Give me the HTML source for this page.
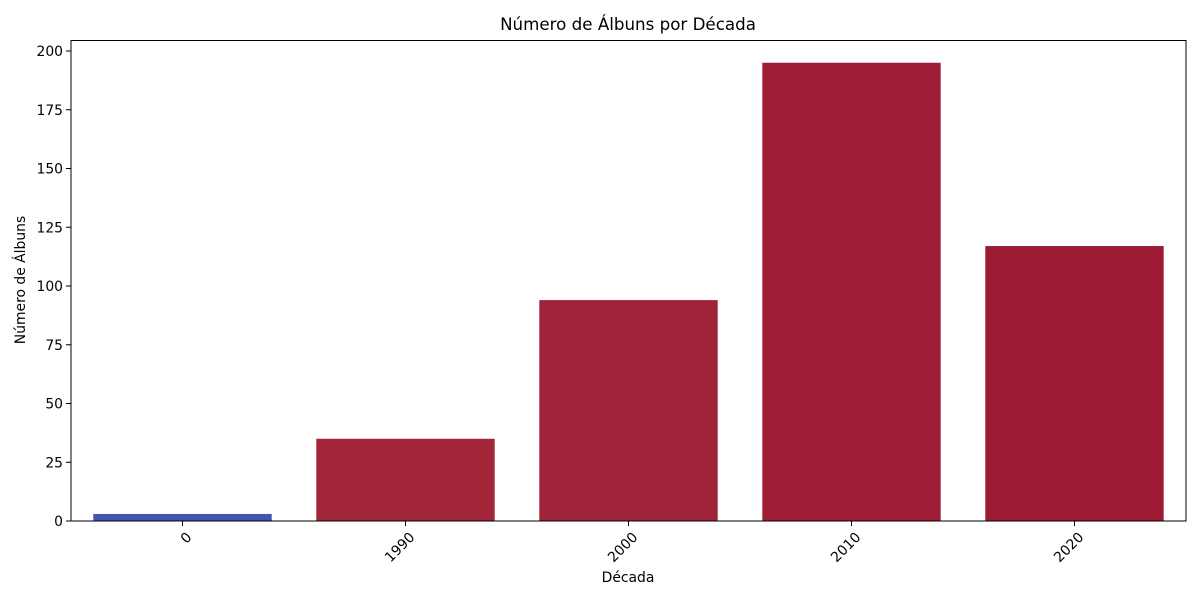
<!DOCTYPE html>
<html><head><meta charset="utf-8"><style>
body{margin:0;background:#fff;}
svg text{font-family:"DejaVu Sans","Liberation Sans",sans-serif;fill:#000;}
</style></head><body>
<svg id="chart" width="1200" height="600" viewBox="0 0 1200 600">
<text x="628" y="30" font-size="16.7" text-anchor="middle">Número de Álbuns por Década</text>
<g id="bars"></g>
<g id="yticks"></g>
<g id="xticks"></g>
<rect x="71" y="40.5" width="1115" height="480.5" fill="none" stroke="#000" stroke-width="1"/>
<text x="628" y="582" font-size="13.9" text-anchor="middle">Década</text>
<text transform="translate(25,280) rotate(-90)" font-size="13.9" text-anchor="middle">Número de Álbuns</text>
</svg>
<script>
const categories = ["0","1990","2000","2010","2020"];
const values = [3, 35, 94, 195, 117];
const colors = ["#4453b6","#a32539","#a1233a","#9e1c35","#9d1a35"];
const yTicks = [0,25,50,75,100,125,150,175,200];
const NS="http://www.w3.org/2000/svg";
const x0=71,x1=1186,yBase=521,yTop200=51;
function yScale(v){return yBase-(v/200)*(yBase-yTop200);}
const band=(x1-x0)/categories.length;
function xCenter(i){return x0+band*(i+0.5);}
const bars=document.getElementById('bars'),yt=document.getElementById('yticks'),xt=document.getElementById('xticks');
categories.forEach((c,i)=>{
  const r=document.createElementNS(NS,'rect');
  const w=band*0.8;
  r.setAttribute('x',xCenter(i)-w/2);
  r.setAttribute('y',yScale(values[i]));
  r.setAttribute('width',w);
  r.setAttribute('height',yBase-yScale(values[i]));
  r.setAttribute('fill',colors[i]);
  
  
  bars.appendChild(r);
  const l=document.createElementNS(NS,'line');
  l.setAttribute('x1',xCenter(i));l.setAttribute('x2',xCenter(i));
  l.setAttribute('y1',yBase);l.setAttribute('y2',yBase+5);
  l.setAttribute('stroke','#000');
  
  
  xt.appendChild(l);
  const t=document.createElementNS(NS,'text');
  t.setAttribute('font-size','13.9');
  t.setAttribute('text-anchor','end');
  t.setAttribute('transform','translate('+(xCenter(i)+10)+','+(yBase+17)+') rotate(-45)');
  t.textContent=c;
  
  
  xt.appendChild(t);
});
yTicks.forEach(v=>{
  const y=yScale(v);
  const l=document.createElementNS(NS,'line');
  l.setAttribute('x1',x0-5);l.setAttribute('x2',x0);
  l.setAttribute('y1',y);l.setAttribute('y2',y);
  l.setAttribute('stroke','#000');
  
  
  yt.appendChild(l);
  const t=document.createElementNS(NS,'text');
  t.setAttribute('x',x0-8);t.setAttribute('y',y+5);
  t.setAttribute('font-size','13.9');
  t.setAttribute('text-anchor','end');
  t.textContent=v;
  
  
  yt.appendChild(t);
});
</script>
</body></html>
